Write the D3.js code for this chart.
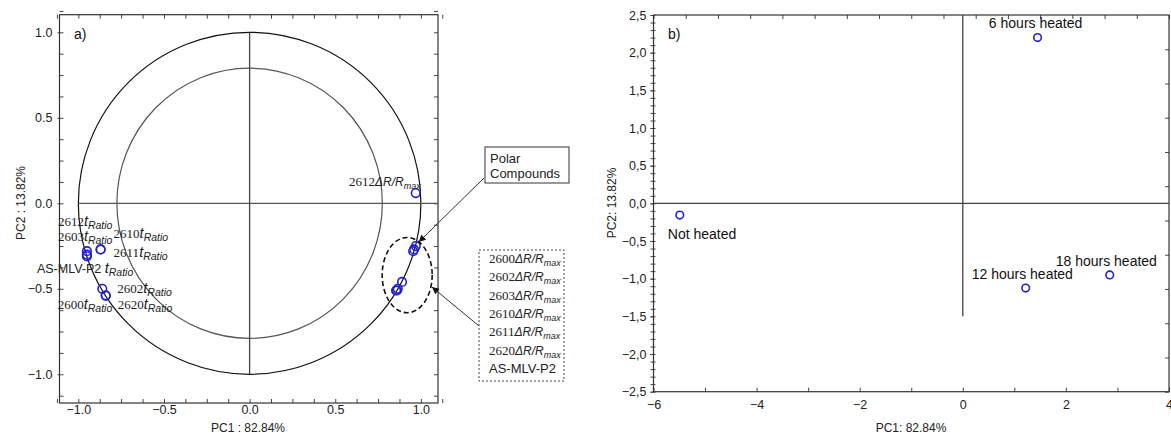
<!DOCTYPE html>
<meta charset="utf-8">
<title>PCA loadings and scores</title>
<body>
<script src="https://cdn.jsdelivr.net/npm/d3@7"></script>
<style>
html, body {
    margin: 0;
    background: #fff;
}
svg {
    display: block;
    font-family: Arial, "Liberation Sans", sans-serif;
}
.frame {
    fill: none;
    stroke: #333;
    stroke-width: 1.2;
}
.tick line {
    stroke: #444;
}
.tick text {
    fill: #222;
    font-size: 12.5px;
}
.domain {
    display: none;
}
</style>
<script>
// ---- panel a: variable loadings (PC1, PC2) ----
var tRatioNames = ["2612", "2603", "2610", "2611", "AS-MLV-P2", "2602", "2600", "2620"];
var tRatioPC1   = [-0.95, -0.95, -0.87, -0.87, -0.95, -0.86, -0.84, -0.84];
var tRatioPC2   = [-0.28, -0.31, -0.27, -0.27, -0.30, -0.50, -0.54, -0.54];

var dRNames = ["2612", "2600", "2602", "2603", "2610", "2611", "2620", "AS-MLV-P2"];
var dRPC1   = [0.97, 0.97, 0.96, 0.955, 0.89, 0.86, 0.855, 0.865];
var dRPC2   = [0.06, -0.25, -0.27, -0.28, -0.46, -0.51, -0.51, -0.50];

var boxNames = ["2600", "2602", "2603", "2610", "2611", "2620", "AS-MLV-P2"];

var ticksA = [-1.0, -0.5, 0.0, 0.5, 1.0];

// ---- panel b: sample scores ----
var sampleNames = ["Not heated", "6 hours heated", "12 hours heated", "18 hours heated"];
var scorePC1    = [-5.49, 1.45, 1.22, 2.85];
var scorePC2    = [-0.155, 2.20, -1.125, -0.95];

var ticksBX = [-6, -4, -2, 0, 2, 4];
var ticksBY = [-2.5, -2.0, -1.5, -1.0, -0.5, 0.0, 0.5, 1.0, 1.5, 2.0, 2.5];

// label offsets (px) from each point, panel a
var tLabelOffset = {
    "2612": [-29, -25], "2603": [-29, -15], "2610": [13, -11], "2611": [13, 8],
    "AS-MLV-P2": [-50, 18], "2602": [15, 4], "2600": [-48, 13], "2620": [12, 13]
};
// label placement, panel b
var sLabel = {
    "Not heated": [-12, 24, "start"],
    "6 hours heated": [-2, -10, "middle"],
    "12 hours heated": [-54, -9, "start"],
    "18 hours heated": [-54, -9, "start"]
};

var width = 1171,
    height = 434,
    blue = "#2222cc";

var svg = d3.select("body").append("svg")
    .attr("width", width)
    .attr("height", height);

svg.append("defs").append("marker")
    .attr("id", "arrow")
    .attr("viewBox", "0 0 10 10")
    .attr("refX", 10).attr("refY", 5)
    .attr("markerWidth", 9).attr("markerHeight", 7)
    .attr("markerUnits", "userSpaceOnUse")
    .attr("orient", "auto")
  .append("path")
    .attr("d", "M0,0L10,5L0,10z")
    .attr("fill", "#111");

function fmtDot(d) { return d3.format(".1f")(d); }
function fmtComma(d) { return d3.format(".1f")(d).replace(".", ","); }

// rich label: number (serif) + italic symbol + subscript
function richLabel(g, x, y, name, kind, anchor) {
    var t = g.append("text")
        .attr("x", x).attr("y", y)
        .attr("text-anchor", anchor || "start")
        .attr("fill", "#222");
    if (name === "AS-MLV-P2") {
        t.append("tspan").attr("font-size", "12.5px").text(kind === "t" ? "AS-MLV-P2 " : "AS-MLV-P2");
    } else {
        t.append("tspan")
            .attr("font-family", "'Liberation Serif', 'Times New Roman', serif")
            .attr("font-size", "13px")
            .text(name);
    }
    if (kind === "t") {
        t.append("tspan").attr("font-style", "italic").attr("font-size", "14.5px").text("t");
        t.append("tspan").attr("font-style", "italic").attr("font-size", "10.5px").attr("dy", 3).text("Ratio");
    } else if (kind === "dR") {
        t.append("tspan").attr("font-style", "italic").attr("font-size", "12px").text("\u0394R/R");
        t.append("tspan").attr("font-style", "italic").attr("font-size", "9px").attr("dy", 3).text("max");
    }
    return t;
}

// ================= panel a =================
var xa = d3.scaleLinear().domain([-1.11, 1.10]).range([59.5, 438]);
var ya = d3.scaleLinear().domain([-1.168, 1.103]).range([403, 14.7]);
var ga = svg.append("g");

// minor inward ticks on all four sides
var minorA = d3.range(-1.125, 1.126, 0.125);
ga.append("g").attr("transform", "translate(0," + ya.range()[0] + ")")
    .call(d3.axisTop(xa).tickValues(minorA).tickSize(4).tickFormat(""));
ga.append("g").attr("transform", "translate(0," + ya.range()[1] + ")")
    .call(d3.axisBottom(xa).tickValues(minorA).tickSize(4).tickFormat(""));
ga.append("g").attr("transform", "translate(" + xa.range()[0] + ",0)")
    .call(d3.axisRight(ya).tickValues(minorA).tickSize(4).tickFormat(""));
ga.append("g").attr("transform", "translate(" + xa.range()[1] + ",0)")
    .call(d3.axisLeft(ya).tickValues(minorA).tickSize(4).tickFormat(""));

// tick labels
ga.append("g").attr("transform", "translate(0," + ya.range()[0] + ")")
    .call(d3.axisBottom(xa).tickValues(ticksA).tickSize(0).tickPadding(2).tickFormat(fmtDot));
ga.append("g").attr("transform", "translate(" + xa.range()[0] + ",0)")
    .call(d3.axisLeft(ya).tickValues(ticksA).tickSize(2).tickPadding(5).tickFormat(fmtDot));

ga.append("rect").attr("class", "frame")
    .attr("x", xa.range()[0]).attr("y", ya.range()[1])
    .attr("width", xa.range()[1] - xa.range()[0])
    .attr("height", ya.range()[0] - ya.range()[1]);

// correlation circles
var kx = xa(1) - xa(0), ky = ya(0) - ya(1);
ga.append("ellipse")
    .attr("cx", xa(0)).attr("cy", ya(0))
    .attr("rx", kx).attr("ry", ky)
    .attr("fill", "none").attr("stroke", "#111").attr("stroke-width", 1.2);
ga.append("ellipse")
    .attr("cx", xa(0)).attr("cy", ya(0))
    .attr("rx", kx * 0.775).attr("ry", ky * 0.79)
    .attr("fill", "none").attr("stroke", "#555").attr("stroke-width", 1.2);

// cross lines
ga.append("line").attr("x1", xa(-1)).attr("x2", xa(1.10)).attr("y1", ya(0)).attr("y2", ya(0))
    .attr("stroke", "#555").attr("stroke-width", 1.3);
ga.append("line").attr("x1", xa(0)).attr("x2", xa(0)).attr("y1", ya(1)).attr("y2", ya(-1))
    .attr("stroke", "#444").attr("stroke-width", 1.3);

// points
var tData = tRatioNames.map(function(n, i) { return { name: n, x: tRatioPC1[i], y: tRatioPC2[i] }; });
var dData = dRNames.map(function(n, i) { return { name: n, x: dRPC1[i], y: dRPC2[i] }; });

ga.selectAll("circle.t").data(tData).enter().append("circle")
    .attr("class", "t")
    .attr("cx", function(d) { return xa(d.x); })
    .attr("cy", function(d) { return ya(d.y); })
    .attr("r", 4.3)
    .attr("fill", "none").attr("stroke", blue).attr("stroke-width", 1.6);
ga.selectAll("circle.d").data(dData).enter().append("circle")
    .attr("class", "d")
    .attr("cx", function(d) { return xa(d.x); })
    .attr("cy", function(d) { return ya(d.y); })
    .attr("r", 4.3)
    .attr("fill", "none").attr("stroke", blue).attr("stroke-width", 1.6);

tData.forEach(function(d) {
    var o = tLabelOffset[d.name];
    richLabel(ga, xa(d.x) + o[0], ya(d.y) + o[1], d.name, "t", "start");
});
richLabel(ga, xa(dData[0].x) + 5, ya(dData[0].y) - 7, dData[0].name, "dR", "end");

// dashed ellipse around the ΔR cluster
ga.append("ellipse")
    .attr("cx", xa(0.92)).attr("cy", ya(-0.42))
    .attr("rx", xa(0.92 + 0.146) - xa(0.92))
    .attr("ry", ya(-0.42) - ya(-0.42 + 0.22))
    .attr("fill", "none").attr("stroke", "#111").attr("stroke-width", 1.6)
    .attr("stroke-dasharray", "5,3");

// "Polar Compounds" callout
ga.append("rect").attr("x", 485).attr("y", 147).attr("width", 84).attr("height", 36)
    .attr("fill", "#fff").attr("stroke", "#333").attr("stroke-width", 1);
ga.append("text").attr("x", 490).attr("y", 163).attr("font-size", "13px").attr("fill", "#222").text("Polar");
ga.append("text").attr("x", 490).attr("y", 178).attr("font-size", "13px").attr("fill", "#222").text("Compounds");
ga.append("line")
    .attr("x1", 484).attr("y1", 178)
    .attr("x2", xa(dData[1].x) + 3).attr("y2", ya(dData[1].y) - 4)
    .attr("stroke", "#333").attr("stroke-width", 1)
    .attr("marker-end", "url(#arrow)");

// dashed legend box of clustered variables
ga.append("rect").attr("x", 479).attr("y", 250).attr("width", 85).attr("height", 131)
    .attr("fill", "#fff").attr("stroke", "#444").attr("stroke-width", 1)
    .attr("stroke-dasharray", "2,2");
boxNames.forEach(function(n, i) {
    if (n === "AS-MLV-P2") {
        ga.append("text").attr("x", 489).attr("y", 263 + i * 18.3)
            .attr("font-size", "13px").attr("fill", "#222").text(n);
    } else {
        richLabel(ga, 489, 263 + i * 18.3, n, "dR", "start");
    }
});
ga.append("line")
    .attr("x1", 479).attr("y1", 326)
    .attr("x2", xa(1.065)).attr("y2", ya(-0.49))
    .attr("stroke", "#333").attr("stroke-width", 1)
    .attr("marker-end", "url(#arrow)");

ga.append("text").attr("x", 74).attr("y", 39).attr("font-size", "14px").attr("fill", "#111").text("a)");
ga.append("text").attr("x", 248).attr("y", 432).attr("text-anchor", "middle")
    .attr("font-size", "12px").attr("fill", "#222").text("PC1 : 82.84%");
ga.append("text").attr("transform", "translate(25,203) rotate(-90)").attr("text-anchor", "middle")
    .attr("font-size", "12px").attr("fill", "#222").text("PC2 : 13.82%");

// ================= panel b =================
var xb = d3.scaleLinear().domain([-6, 4]).range([653.5, 1169]);
var yb = d3.scaleLinear().domain([-2.5, 2.5]).range([391.7, 15]);
var gb = svg.append("g");

gb.append("g").attr("transform", "translate(0," + yb.range()[0] + ")")
    .call(d3.axisTop(xb).tickValues(d3.range(-6, 4.01, 1)).tickSize(4).tickFormat(""));
gb.append("g").attr("transform", "translate(0," + yb.range()[1] + ")")
    .call(d3.axisBottom(xb).tickValues(d3.range(-6, 4.01, 0.625)).tickSize(4).tickFormat(""));
gb.append("g").attr("transform", "translate(" + xb.range()[1] + ",0)")
    .call(d3.axisLeft(yb).tickValues(d3.range(0, 11).map(function(k) { return -2.5 + k * 5 / 11; })).tickSize(4).tickFormat(""));
gb.append("g").attr("transform", "translate(" + xb.range()[0] + ",0)")
    .call(d3.axisLeft(yb).tickValues(d3.range(-2.5, 2.51, 0.1)).tickSize(3).tickFormat(""));
gb.append("g").attr("transform", "translate(" + xb.range()[0] + ",0)")
    .call(d3.axisRight(yb).tickValues(d3.range(-2.5, 2.51, 0.1)).tickSize(2).tickFormat(""));

gb.append("g").attr("transform", "translate(0," + yb.range()[0] + ")")
    .call(d3.axisBottom(xb).tickValues(ticksBX).tickSize(0).tickPadding(8).tickFormat(d3.format("d")));
gb.append("g").attr("transform", "translate(" + xb.range()[0] + ",0)")
    .call(d3.axisLeft(yb).tickValues(ticksBY).tickSize(3).tickPadding(4).tickFormat(fmtComma));

gb.append("rect").attr("class", "frame")
    .attr("x", xb.range()[0]).attr("y", yb.range()[1])
    .attr("width", xb.range()[1] - xb.range()[0])
    .attr("height", yb.range()[0] - yb.range()[1]);

gb.append("line").attr("x1", xb(-6)).attr("x2", xb(4)).attr("y1", yb(0)).attr("y2", yb(0))
    .attr("stroke", "#444").attr("stroke-width", 1.3);
gb.append("line").attr("x1", xb(0)).attr("x2", xb(0)).attr("y1", yb(2.5)).attr("y2", yb(-1.5))
    .attr("stroke", "#444").attr("stroke-width", 1.3);

var sData = sampleNames.map(function(n, i) { return { name: n, x: scorePC1[i], y: scorePC2[i] }; });
gb.selectAll("circle").data(sData).enter().append("circle")
    .attr("cx", function(d) { return xb(d.x); })
    .attr("cy", function(d) { return yb(d.y); })
    .attr("r", 3.8)
    .attr("fill", "none").attr("stroke", blue).attr("stroke-width", 1.6);
gb.selectAll("text.lbl").data(sData).enter().append("text")
    .attr("class", "lbl")
    .attr("x", function(d) { return xb(d.x) + sLabel[d.name][0]; })
    .attr("y", function(d) { return yb(d.y) + sLabel[d.name][1]; })
    .attr("text-anchor", function(d) { return sLabel[d.name][2]; })
    .attr("font-size", "14px").attr("fill", "#111")
    .text(function(d) { return d.name; });

gb.append("text").attr("x", 668).attr("y", 39).attr("font-size", "14px").attr("fill", "#111").text("b)");
gb.append("text").attr("x", 911).attr("y", 432).attr("text-anchor", "middle")
    .attr("font-size", "12px").attr("fill", "#222").text("PC1: 82.84%");
gb.append("text").attr("transform", "translate(616,203) rotate(-90)").attr("text-anchor", "middle")
    .attr("font-size", "12px").attr("fill", "#222").text("PC2: 13.82%");
</script>
